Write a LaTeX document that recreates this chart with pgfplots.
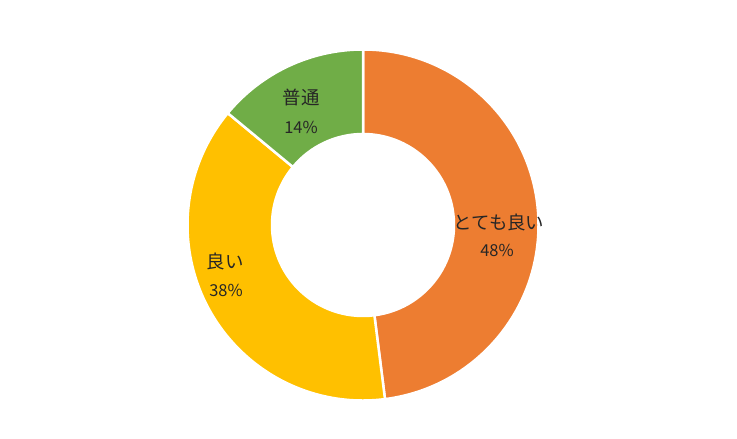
\documentclass[border=0pt]{standalone}
\usepackage{pgfplots}
\pgfplotsset{compat=1.18}
\usepackage{fontspec}
\setmainfont{Noto Sans CJK JP}
\definecolor{segA}{HTML}{ED7D31}
\definecolor{segB}{HTML}{FFC000}
\definecolor{segC}{HTML}{70AD47}
\definecolor{lbl}{HTML}{262626}
\begin{document}
\begin{tikzpicture}
\begin{axis}[
    hide axis,
    scale only axis,
    width=737bp, height=439bp,
    xmin=0, xmax=737, ymin=0, ymax=439,
    clip=false,
]
\path (axis cs:0,0) rectangle (axis cs:737,439);
% share (%), cumulative start (%), colour
\foreach \v/\c/\col in {48/0/segA, 38/48/segB, 14/86/segC}{
    \pgfmathsetmacro\a{90-3.6*\c}
    \pgfmathsetmacro\b{90-3.6*(\c+\v)}
    \edef\seg{\noexpand\fill[\col, draw=white, line width=2.5bp]
        (axis cs:363,214) ++(\a:175.5bp)
        arc[start angle=\a, end angle=\b, radius=175.5bp]
        -- ([shift={(\b:91bp)}]axis cs:363,214)
        arc[start angle=\b, end angle=\a, radius=91bp] -- cycle;}
    \seg
}
\node[text=lbl, font=\fontsize{18.5}{21}\selectfont] at (axis cs:499,217) {とても良い};
\node[text=lbl, font=\fontsize{16.5}{19}\selectfont] at (axis cs:497,189) {48\%};
\node[text=lbl, font=\fontsize{18.5}{21}\selectfont] at (axis cs:225,178) {良い};
\node[text=lbl, font=\fontsize{16.5}{19}\selectfont] at (axis cs:226,149) {38\%};
\node[text=lbl, font=\fontsize{18.5}{21}\selectfont] at (axis cs:301,342) {普通};
\node[text=lbl, font=\fontsize{16.5}{19}\selectfont] at (axis cs:301,312) {14\%};
\end{axis}
\end{tikzpicture}
\end{document}
